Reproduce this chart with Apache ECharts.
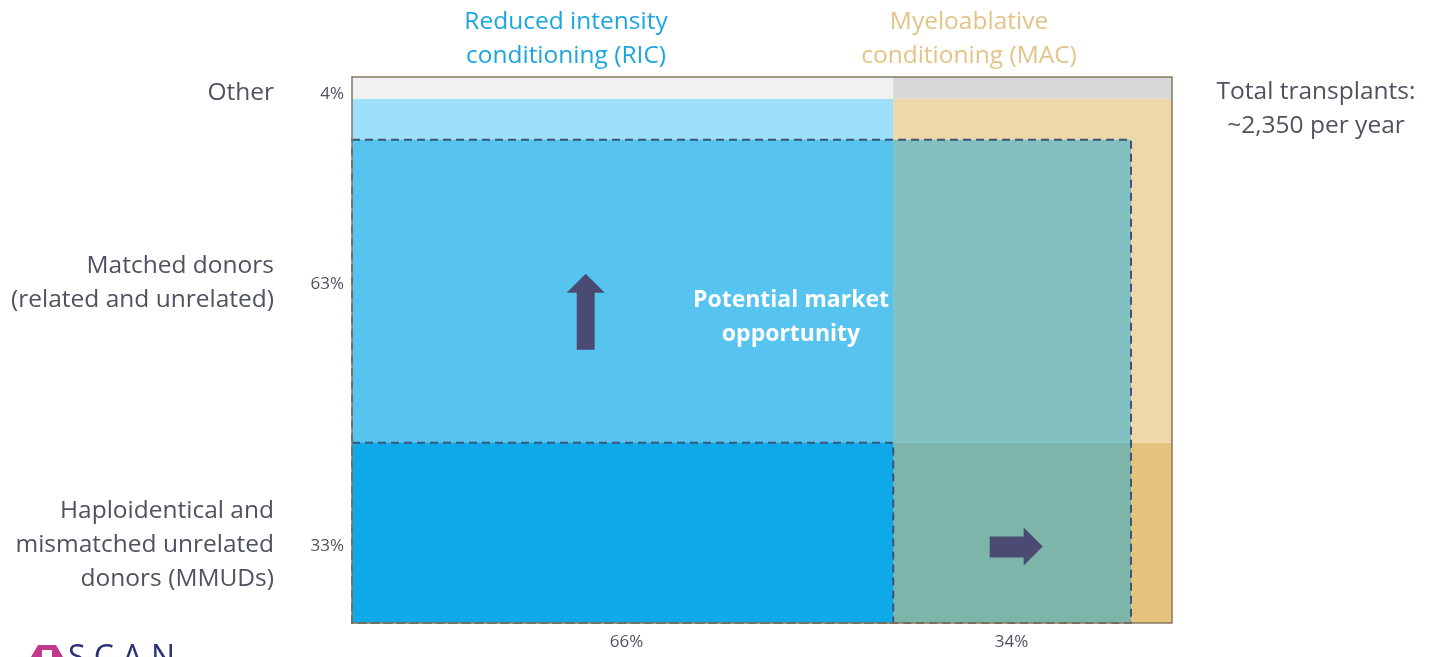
<!DOCTYPE html>
<html>
<head>
<meta charset="utf-8">
<script src="https://cdn.jsdelivr.net/npm/echarts@6/dist/echarts.min.js"></script>
<style>
  html, body { margin: 0; padding: 0; background: #ffffff; }
  #chart { width: 1436px; height: 657px; }
</style>
</head>
<body>
<div id="chart"></div>
<script>
// Transplant mix by donor type (rows) and conditioning regimen (columns)
const rowNames = ['Haploidentical and\nmismatched unrelated\ndonors (MMUDs)', 'Matched donors\n(related and unrelated)', 'Other'];
const rowShares = [33, 63, 4];
const rowLabels = ['33%', '63%', '4%'];
const colNames = ['Reduced intensity\nconditioning (RIC)', 'Myeloablative\nconditioning (MAC)'];
const colShares = [66, 34];
const colLabels = ['66%', '34%'];
const totalNote = 'Total transplants:\n~2,350 per year';
const opportunityText = 'Potential market\nopportunity';

// Styling
const FONT = '"Open Sans", "Noto Sans", sans-serif';
const TEXT_GREY = '#4f525f';
const DASH = '#3a5577';
const ARROW = '#4a4a72';
// cellColors[col][row]
const cellColors = [
  ['#0ea9e9', '#9edff9', '#f1f1f1'],
  ['#e5c37c', '#efd8a7', '#d7d7d7']
];
const overlayFill = 'rgba(0,164,229,0.45)';
// Highlighted region (x range, y range in percent of the plot)
const opportunityX = [0, 95];
const opportunityY = [0, 88.5];
// Arrow markers (percent coordinates)
const upArrowAt = [28.5, 57];
const rightArrowAt = [81, 14];

// Build cell rectangles from the shares
const cells = [];
let x0 = 0;
colShares.forEach((cw, ci) => {
  let y0 = 0;
  rowShares.forEach((rh, ri) => {
    cells.push([x0, x0 + cw, y0, y0 + rh, ci, ri]);
    y0 += rh;
  });
  x0 += cw;
});
// Label anchors at the middle of each row / column
const rowMids = [];
{ let acc = 0; rowShares.forEach((r, i) => { rowMids.push([acc + r / 2, i]); acc += r; }); }
const colMids = [];
{ let acc = 0; colShares.forEach((c, i) => { colMids.push([acc + c / 2, i]); acc += c; }); }

function rectFrom(api, xa, xb, ya, yb) {
  const p0 = api.coord([xa, yb]);
  const p1 = api.coord([xb, ya]);
  return { x: p0[0], y: p0[1], width: p1[0] - p0[0], height: p1[1] - p0[1] };
}

const chart = echarts.init(document.getElementById('chart'), null, { renderer: 'canvas' });

function centeredText(x, y, text, fill, font, z) {
  return {
    type: 'text', x: x, y: y, z: z || 20,
    style: { text: text, fill: fill, font: font, align: 'center', verticalAlign: 'top', lineHeight: 34 }
  };
}

chart.setOption({
  animation: false,
  backgroundColor: '#ffffff',
  grid: {
    left: 352, right: 264, top: 77, bottom: 34,
    show: true, borderColor: '#857a5e', borderWidth: 1.5, backgroundColor: 'transparent', z: 10
  },
  xAxis: { type: 'value', min: 0, max: 100, show: false },
  yAxis: { type: 'value', min: 0, max: 100, show: false },
  series: [
    {
      type: 'custom',
      name: 'cells',
      data: cells,
      z: 1,
      renderItem: (params, api) => {
        const d = cells[params.dataIndex];
        return {
          type: 'rect',
          shape: rectFrom(api, d[0], d[1], d[2], d[3]),
          style: { fill: cellColors[d[4]][d[5]] }
        };
      }
    },
    {
      type: 'custom',
      name: 'opportunity',
      data: [[opportunityX[0], opportunityX[1], opportunityY[0], opportunityY[1]]],
      z: 2,
      renderItem: (params, api) => ({
        type: 'rect',
        shape: rectFrom(api, opportunityX[0], opportunityX[1], opportunityY[0], opportunityY[1]),
        style: { fill: overlayFill, stroke: DASH, lineWidth: 2, lineDash: [8, 5] }
      })
    },
    {
      type: 'custom',
      name: 'ric-haplo',
      data: [cells[0]],
      z: 3,
      renderItem: (params, api) => {
        const d = cells[0];
        return {
          type: 'rect',
          shape: rectFrom(api, d[0], d[1], d[2], d[3]),
          style: { fill: cellColors[0][0], stroke: DASH, lineWidth: 2, lineDash: [8, 5] }
        };
      }
    },
    {
      type: 'custom',
      name: 'row-labels',
      data: rowMids,
      z: 5,
      clip: false,
      renderItem: (params, api) => {
        const [mid, i] = rowMids[params.dataIndex];
        const p = api.coord([0, mid]);
        const dy = i === 2 ? 6 : 13;
        return {
          type: 'group',
          children: [
            {
              type: 'text',
              x: p[0] - 8, y: p[1] + dy,
              style: {
                text: rowLabels[i], fill: TEXT_GREY, font: '17px ' + FONT,
                align: 'right', verticalAlign: 'middle'
              }
            },
            {
              type: 'text',
              x: p[0] - 78, y: p[1] + dy - 1,
              style: {
                text: rowNames[i], fill: TEXT_GREY, font: '24.5px ' + FONT,
                align: 'right', verticalAlign: 'middle', lineHeight: 34
              }
            }
          ]
        };
      }
    },
    {
      type: 'custom',
      name: 'col-labels',
      data: colMids,
      z: 5,
      clip: false,
      renderItem: (params, api) => {
        const [mid, i] = colMids[params.dataIndex];
        const p = api.coord([mid, 0]);
        return {
          type: 'text',
          x: p[0] + (i === 1 ? -21 : 4), y: p[1] + 19,
          style: {
            text: colLabels[i], fill: TEXT_GREY, font: '17px ' + FONT,
            align: 'center', verticalAlign: 'middle'
          }
        };
      }
    },
    {
      type: 'scatter',
      name: 'arrows',
      z: 6,
      silent: true,
      data: [
        { value: upArrowAt, symbol: 'path://M19,0 L38,19 L28,19 L28,76 L10,76 L10,19 L0,19 Z', symbolSize: [38, 76] },
        { value: rightArrowAt, symbol: 'path://M0,9 L34,9 L34,0 L53,19 L34,38 L34,30 L0,30 Z', symbolSize: [53, 38] }
      ],
      itemStyle: { color: ARROW, opacity: 1 }
    }
  ],
  graphic: [
    centeredText(566, 5, colNames[0], '#1ca6df', '24.5px ' + FONT),
    centeredText(969, 5, colNames[1], '#e3c487', '24.5px ' + FONT),
    centeredText(1316, 75, totalNote, TEXT_GREY, '24.5px ' + FONT),
    centeredText(791, 283, opportunityText, '#ffffff', 'bold 23px ' + FONT),
    // Brand mark, bottom-left
    {
      type: 'polygon', z: 20,
      shape: { points: [[38, 645], [56, 645], [63, 657], [31, 657]] },
      style: { fill: '#c23a8c' }
    },
    {
      type: 'rect', z: 21,
      shape: { x: 42, y: 650, width: 10, height: 7 },
      style: { fill: '#ffffff' }
    },
    {
      type: 'text', x: 68, y: 643, z: 20,
      style: { text: 'S C A N', fill: '#2c3178', font: '32px ' + FONT }
    }
  ]
});
</script>
</body>
</html>
